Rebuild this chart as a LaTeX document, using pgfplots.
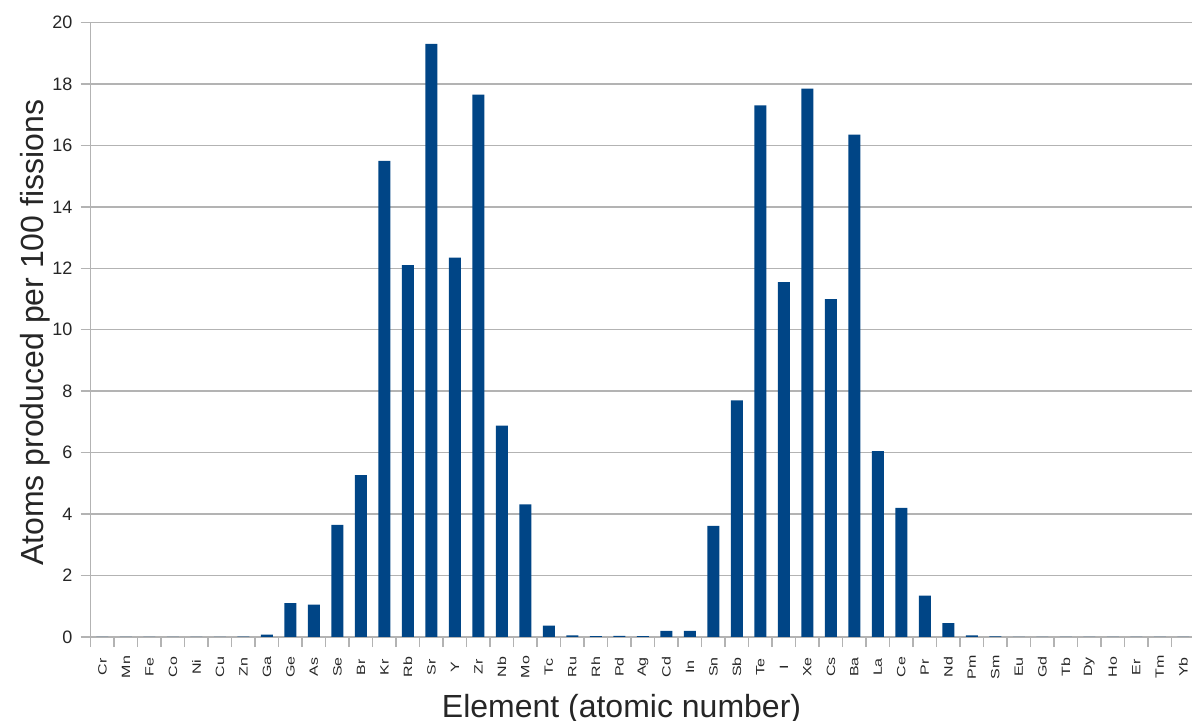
\documentclass[border=0pt]{standalone}
\usepackage{fontspec}
\setmainfont{Liberation Sans}
\usepackage{pgfplots}
\pgfplotsset{compat=1.18}
\definecolor{barblue}{HTML}{004586}
\definecolor{gridgray}{HTML}{B3B3B3}
\begin{document}
\begin{tikzpicture}
\begin{axis}[
  at={(0pt,0pt)}, anchor=south west,
  scale only axis,
  width=550.65pt, height=307.25pt,
  xmin=-0.5, xmax=46.37,
  ymin=0, ymax=20,
  axis lines=left,
  axis line style={draw=gridgray, line width=0.8pt, -},
  ytick={0,2,...,20},
  ymajorgrids,
  grid style={draw=gridgray, line width=0.7pt},
  tick align=outside,
  major tick length=5pt,
  minor tick length=5pt,
  tick style={draw=gridgray, line width=0.7pt},
  xtick={0,...,46},
  xticklabels={Cr,Mn,Fe,Co,Ni,Cu,Zn,Ga,Ge,As,Se,Br,Kr,Rb,Sr,Y,Zr,Nb,Mo,Tc,Ru,Rh,Pd,Ag,Cd,In,Sn,Sb,Te,I,Xe,Cs,Ba,La,Ce,Pr,Nd,Pm,Sm,Eu,Gd,Tb,Dy,Ho,Er,Tm,Yb},
  x tick style={draw=none},
  minor xtick={-0.5,0.5,...,46.5},
  minor x tick style={draw=gridgray, line width=0.7pt},
  xticklabel style={rotate=90, yscale=0.75, anchor=center, font=\fontsize{8}{9}\selectfont, text=black!85, inner sep=0pt, xshift=-10pt},
  yticklabel style={font=\fontsize{9}{10}\selectfont, text=black!85, inner sep=4pt},
  /pgf/number format/assume math mode=true,
  xlabel={Element (atomic number)},
  ylabel={Atoms produced per 100 fissions},
  xlabel style={font=\fontsize{16}{18}\selectfont, text=black!85, at={(axis description cs:0.482,0)}, anchor=base, yshift=-40pt},
  ylabel style={font=\fontsize{16}{18}\selectfont, text=black!85, at={(axis description cs:-0.0433,0.495)}, anchor=base, rotate=0},
  ybar, bar width=6pt, bar shift=0pt,
  clip=false,
]
\addplot[fill=barblue, draw=none] coordinates {
(0,0) (1,0) (2,0) (3,0) (4,0) (5,0) (6,0.01) (7,0.08) (8,1.1) (9,1.05)
(10,3.65) (11,5.27) (12,15.5) (13,12.1) (14,19.3) (15,12.35) (16,17.65) (17,6.88) (18,4.32) (19,0.37)
(20,0.05) (21,0.03) (22,0.04) (23,0.03) (24,0.2) (25,0.2) (26,3.62) (27,7.7) (28,17.3) (29,11.55)
(30,17.85) (31,11.0) (32,16.35) (33,6.05) (34,4.2) (35,1.35) (36,0.45) (37,0.05) (38,0.02) (39,0)
(40,0) (41,0) (42,0) (43,0) (44,0) (45,0) (46,0)
};
\end{axis}
\pgfresetboundingbox
\useasboundingbox (-45.35pt,-42pt) rectangle (550.65pt,318.5pt);
\end{tikzpicture}
\end{document}
